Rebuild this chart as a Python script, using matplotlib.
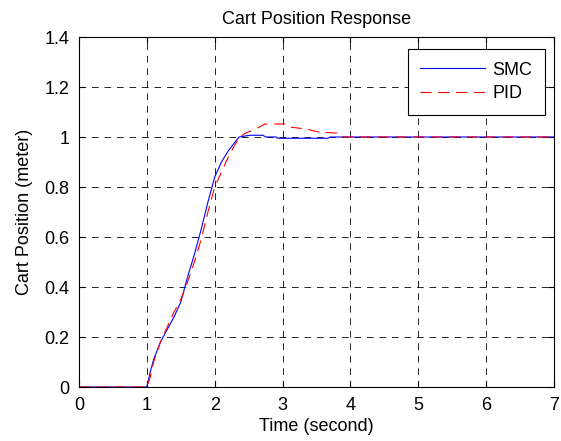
import numpy as np
import matplotlib
matplotlib.use("Agg")
import matplotlib.pyplot as plt

plt.rcParams['font.family'] = ['Liberation Sans', 'DejaVu Sans']

# SMC response
t_smc = [0, 1.0, 1.05, 1.1, 1.2, 1.3, 1.4, 1.5, 1.6, 1.7, 1.8, 1.9, 2.0, 2.1,
         2.2, 2.3, 2.36, 2.45, 2.52, 2.71, 2.75, 2.91, 2.93, 3.67, 3.7, 7.0]
x_smc = [0, 0, 0.06, 0.11, 0.18, 0.23, 0.28, 0.34, 0.44, 0.53, 0.63, 0.74, 0.84, 0.9,
         0.945, 0.98, 1.0, 1.004, 1.007, 1.007, 1.0, 1.0, 0.995, 0.995, 1.0, 1.0]

# PID response
t_pid = [0, 1.0, 1.05, 1.1, 1.2, 1.3, 1.4, 1.5, 1.6, 1.7, 1.8, 1.9, 2.0, 2.1, 2.2,
         2.3, 2.37, 2.45, 2.59, 2.74, 3.05, 3.1, 3.25, 3.33, 3.53, 3.84, 3.9, 7.0]
x_pid = [0, 0, 0.04, 0.1, 0.18, 0.24, 0.3, 0.35, 0.42, 0.5, 0.59, 0.7, 0.8, 0.86, 0.92,
         0.97, 1.0, 1.015, 1.03, 1.052, 1.052, 1.04, 1.035, 1.033, 1.02, 1.015, 1.0, 1.0]

xticks = [0, 1, 2, 3, 4, 5, 6, 7]
yticks = [0, 0.2, 0.4, 0.6, 0.8, 1, 1.2, 1.4]
ytick_labels = ['0', '0.2', '0.4', '0.6', '0.8', '1', '1.2', '1.4']

fig = plt.figure(figsize=(5.61, 4.41), dpi=100)
ax = fig.add_axes([79/561, 1-387/441, 475/561, 350/441])

ax.plot(t_smc, x_smc, color='#0000ff', lw=0.8, label='SMC')
ax.plot(t_pid, x_pid, color='#ff0000', lw=0.8, linestyle=(0, (10, 6)), label='PID')

ax.set_xlim(0, 7)
ax.set_ylim(0, 1.4)
ax.set_xticks(xticks)
ax.set_yticks(yticks)
ax.set_yticklabels(ytick_labels)
ax.grid(True, color='black', linestyle=(0, (8, 7)), lw=0.6)
ax.tick_params(direction='in', top=True, right=True, labelsize=13, length=4, width=0.8)
ax.tick_params(axis='x', pad=7)
ax.tick_params(axis='y', pad=7)
for s in ax.spines.values():
    s.set_linewidth(0.8)

ax.set_title('Cart Position Response', fontsize=13, pad=9)
ax.set_xlabel('Time (second)', fontsize=13, labelpad=3)
ax.set_ylabel('Cart Position (meter)', fontsize=13, labelpad=8)

leg = ax.legend(loc='upper right', fontsize=13, fancybox=False, framealpha=1,
                edgecolor='black', handlelength=3.6, borderaxespad=0,
                bbox_to_anchor=(545/561, 1-49/441), bbox_transform=fig.transFigure,
                handletextpad=0.4, borderpad=0.7, labelspacing=0.35)
leg.get_frame().set_linewidth(0.8)

fig.savefig('out.png', dpi=100)
